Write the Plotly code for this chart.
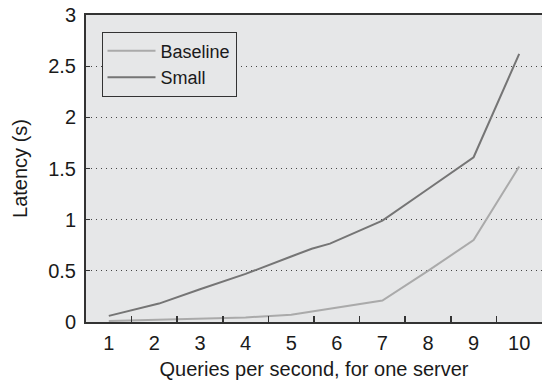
import plotly.graph_objects as go

# Data
baseline_x = [1, 2, 3, 4, 5, 6, 7, 8, 9, 10]
baseline_y = [0.01, 0.02, 0.03, 0.045, 0.072, 0.14, 0.21, 0.50, 0.80, 1.52]

small_x = [1, 2.1, 3, 4, 5, 5.45, 5.85, 7, 8, 9, 10]
small_y = [0.06, 0.18, 0.32, 0.47, 0.64, 0.716, 0.766, 0.99, 1.30, 1.61, 2.62]

x_tick_vals = [1, 2, 3, 4, 5, 6, 7, 8, 9, 10]
x_tick_text = ["1", "2", "3", "4", "5", "6", "7", "8", "9", "10"]
x_minor_ticks = [1.5, 2.5, 3.5, 4.5, 5.5, 6.5, 7.5, 8.5, 9.5]
y_tick_vals = [0, 0.5, 1, 1.5, 2, 2.5, 3]
y_tick_text = ["0", "0.5", "1", "1.5", "2", "2.5", "3"]

FONT = "Liberation Sans, Arial, Helvetica, sans-serif"

fig = go.Figure()
fig.add_trace(go.Scatter(x=baseline_x, y=baseline_y, mode="lines", name="Baseline",
                         line=dict(color="#aaaaaa", width=2)))
fig.add_trace(go.Scatter(x=small_x, y=small_y, mode="lines", name="Small",
                         line=dict(color="#757575", width=2)))
# invisible trace to host the tick-mark axis
fig.add_trace(go.Scatter(x=[x_minor_ticks[0]], y=[0], xaxis="x2", mode="markers",
                         marker=dict(opacity=0), showlegend=False, hoverinfo="skip"))

fig.update_layout(
    width=542, height=382,
    margin=dict(l=86, r=0, t=15, b=60),
    paper_bgcolor="white",
    plot_bgcolor="#e6e7e8",
    font=dict(family=FONT, size=20, color="#1a1a1a"),
    showlegend=True,
    legend=dict(x=0.034, y=0.946, xanchor="left", yanchor="top",
                bgcolor="#e6e7e8", bordercolor="#333333", borderwidth=1,
                itemwidth=48, tracegroupgap=0,
                font=dict(size=18, family=FONT)),
    xaxis=dict(range=[0.5, 10.5], tickvals=x_tick_vals, ticktext=x_tick_text,
               ticks="", showgrid=False, zeroline=False, automargin=False,
               showline=True, linecolor="#333333", linewidth=2, mirror=True,
               ticklabelstandoff=2,
               title=dict(text="Queries per second, for one server",
                          font=dict(size=20), standoff=9)),
    xaxis2=dict(range=[0.5, 10.5], overlaying="x", anchor="y", side="bottom",
                tickvals=x_minor_ticks, ticks="inside", ticklen=6, tickwidth=1.5,
                tickcolor="#333333", showticklabels=False, showgrid=False,
                zeroline=False, showline=False, automargin=False),
    yaxis=dict(range=[0, 3], tickvals=y_tick_vals, ticktext=y_tick_text,
               ticks="inside", ticklen=4, tickcolor="#333333", automargin=False,
               showgrid=True, gridcolor="#444444", gridwidth=1, griddash="1px,4px",
               zeroline=False, showline=True, linecolor="#333333", linewidth=2,
               ticklabelstandoff=4,
               title=dict(text="Latency (s)", font=dict(size=20), standoff=15)),
)

fig.write_html("out.html",
               config={"displayModeBar": False, "staticPlot": True},
               post_script="document.body.style.margin='0px';document.body.style.overflow='hidden';")
